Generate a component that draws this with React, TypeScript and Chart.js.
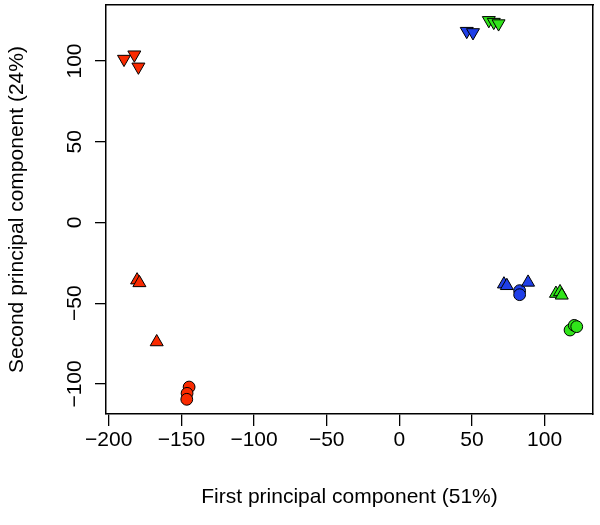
import React, { useEffect, useRef } from "react";
import { Chart, registerables } from "chart.js";

Chart.register(...registerables);

// ---- data ----
const redDownX = [-189.5, -182.4, -179.6];
const redDownY = [101.2, 103.9, 96.4];
const redUpX = [-180.5, -178.9, -167.0];
const redUpY = [-35.7, -37.4, -74.0];
const redCircleX = [-144.7, -146.1, -146.3];
const redCircleY = [-101.9, -105.8, -109.5];

const blueDownX = [46.4, 50.7];
const blueDownY = [118.5, 117.7];
const blueUpX = [72.0, 74.0, 88.6];
const blueUpY = [-38.2, -39.2, -37.1];
const blueCircleX = [82.8, 82.8];
const blueCircleY = [-42.2, -44.7];

const greenDownX = [61.6, 65.0, 68.3];
const greenDownY = [125.2, 124.1, 123.2];
const greenUpX = [107.8, 110.6, 111.8];
const greenUpY = [-44.0, -43.0, -45.1];
const greenCircleX = [117.5, 120.4, 122.1];
const greenCircleY = [-66.6, -63.7, -64.5];

const xTicks = [-200, -150, -100, -50, 0, 50, 100];
const yTicks = [-100, -50, 0, 50, 100];
const xLimits = [-201.9, 133.3];
const yLimits = [-118.6, 134.7];

const xTitle = "First principal component (51%)";
const yTitle = "Second principal component (24%)";

const RED = "#fa2a00";
const BLUE = "#1f3fe8";
const GREEN = "#30e41a";

const FONT = { family: "'Liberation Sans', Arial, sans-serif", size: 21 };

const zip = (xs: number[], ys: number[]) => xs.map((x, i) => ({ x, y: ys[i] }));
const fmt = (v: number | string) => String(v).replace("-", "\u2212");

function makeSet(label: string, xs: number[], ys: number[], color: string, shape: string) {
  const isTri = shape !== "circle";
  return {
    label,
    data: zip(xs, ys),
    pointStyle: isTri ? "triangle" : "circle",
    pointRotation: shape === "down" ? 180 : 0,
    pointRadius: isTri ? 7.5 : 5.9,
    pointBackgroundColor: color,
    pointBorderColor: "#000",
    pointBorderWidth: 1,
    showLine: false,
  };
}

export default function App() {
  const ref = useRef<HTMLCanvasElement | null>(null);

  useEffect(() => {
    if (!ref.current) return;
    const chart = new Chart(ref.current, {
      type: "scatter",
      data: {
        datasets: [
          makeSet("red down", redDownX, redDownY, RED, "down"),
          makeSet("red up", redUpX, redUpY, RED, "up"),
          makeSet("red circle", redCircleX, redCircleY, RED, "circle"),
          makeSet("blue down", blueDownX, blueDownY, BLUE, "down"),
          makeSet("blue up", blueUpX, blueUpY, BLUE, "up"),
          makeSet("blue circle", blueCircleX, blueCircleY, BLUE, "circle"),
          makeSet("green down", greenDownX, greenDownY, GREEN, "down"),
          makeSet("green up", greenUpX, greenUpY, GREEN, "up"),
          makeSet("green circle", greenCircleX, greenCircleY, GREEN, "circle"),
        ] as any,
      },
      options: {
        animation: false,
        responsive: false,
        devicePixelRatio: 1,
        layout: { autoPadding: false, padding: { top: 5, right: 7, left: 0, bottom: 0 } },
        plugins: { legend: { display: false }, tooltip: { enabled: false } },
        scales: {
          x: {
            type: "linear",
            position: "bottom",
            min: xLimits[0],
            max: xLimits[1],
            afterBuildTicks: (s: any) => {
              s.ticks = xTicks.map((v) => ({ value: v }));
            },
            afterFit: (s: any) => {
              s.height = 111;
              s.paddingLeft = 0;
              s.paddingRight = 0;
            },
            ticks: {
              font: FONT,
              color: "#000",
              padding: 2,
              maxRotation: 0,
              autoSkip: false,
              callback: (v: any) => fmt(v),
            },
            grid: {
              display: true,
              drawOnChartArea: false,
              drawTicks: true,
              tickLength: 12,
              color: "#000",
              lineWidth: 1.3,
            },
            border: { display: true, color: "#000", width: 1.5 },
            title: {
              display: true,
              text: xTitle,
              font: FONT,
              color: "#000",
              padding: { top: 0, bottom: 15 },
            },
          },
          y: {
            type: "linear",
            position: "left",
            min: yLimits[0],
            max: yLimits[1],
            afterBuildTicks: (s: any) => {
              s.ticks = yTicks.map((v) => ({ value: v }));
            },
            afterFit: (s: any) => {
              s.width = 106;
              s.paddingTop = 0;
              s.paddingBottom = 0;
            },
            ticks: {
              font: FONT,
              color: "#000",
              padding: -4,
              minRotation: 90,
              maxRotation: 90,
              crossAlign: "center",
              autoSkip: false,
              callback: (v: any) => fmt(v),
            },
            grid: {
              display: true,
              drawOnChartArea: false,
              drawTicks: true,
              tickLength: 11,
              color: "#000",
              lineWidth: 1.3,
            },
            border: { display: true, color: "#000", width: 1.5 },
            title: {
              display: true,
              text: yTitle,
              font: FONT,
              color: "#000",
              padding: { top: 5, bottom: 0 },
            },
          },
          xTop: {
            type: "linear",
            position: "top",
            min: xLimits[0],
            max: xLimits[1],
            afterFit: (s: any) => {
              s.height = 0;
              s.paddingLeft = 0;
              s.paddingRight = 0;
            },
            ticks: { display: false },
            grid: { display: false, drawTicks: false },
            border: { display: true, color: "#000", width: 1.5 },
          },
          yRight: {
            type: "linear",
            position: "right",
            min: yLimits[0],
            max: yLimits[1],
            afterFit: (s: any) => {
              s.width = 0;
              s.paddingTop = 0;
              s.paddingBottom = 0;
            },
            ticks: { display: false },
            grid: { display: false, drawTicks: false },
            border: { display: true, color: "#000", width: 1.5 },
          },
        },
      } as any,
    });
    return () => chart.destroy();
  }, []);

  return (
    <div style={{ position: "absolute", left: 0, top: 0, width: 600, height: 525, background: "#fff" }}>
      <canvas ref={ref} width={600} height={525} style={{ display: "block" }} />
    </div>
  );
}
